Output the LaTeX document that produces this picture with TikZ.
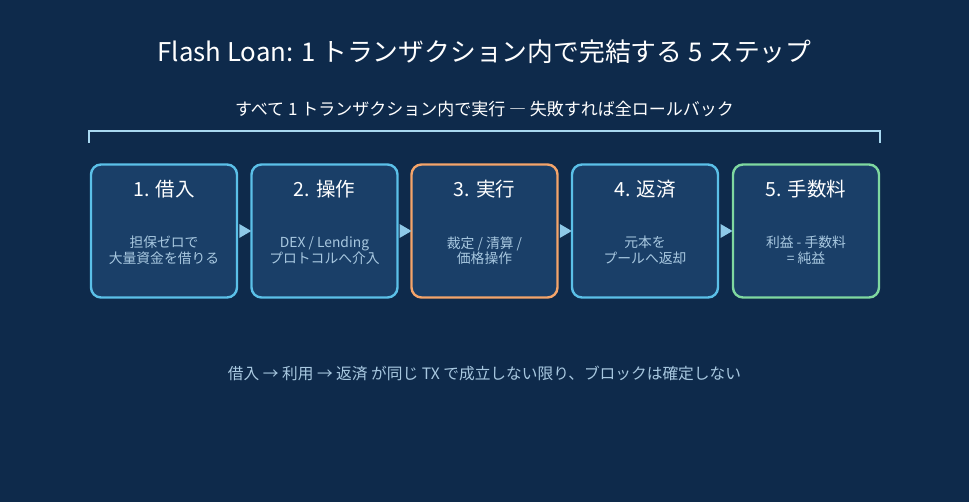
\documentclass[tikz,border=0pt]{standalone}
\usepackage{fontspec}
\usetikzlibrary{calc}
\setmainfont{Noto Sans CJK JP}
\definecolor{bg}{HTML}{0E2A4B}
\definecolor{boxfill}{HTML}{1A3F68}
\definecolor{cblue}{HTML}{5BC0E8}
\definecolor{corange}{HTML}{F4A46A}
\definecolor{cgreen}{HTML}{7FD8A0}
\definecolor{arrowc}{HTML}{8EC9E8}
\definecolor{bodyc}{HTML}{A8C8E0}
\definecolor{bracketc}{HTML}{A8D8F0}
\begin{document}
\begin{tikzpicture}[x=1pt,y=-1pt,
  stepbox/.style={draw=#1, line width=2.4pt, fill=boxfill, rounded corners=10pt, minimum width=146pt, minimum height=133pt, inner sep=0pt},
  steptitle/.style={text=white, font=\fontsize{19.5}{23}\selectfont},
  stepbody/.style={text=bodyc, font=\fontsize{13.8}{15.5}\selectfont, align=center},
  tri/.style={fill=arrowc, draw=none}]
\fill[bg] (0,0) rectangle (969,502);
\useasboundingbox (0,0) rectangle (969,502);
\node[text=white, font=\fontsize{25.8}{30}\selectfont] (title) at (484.5,52) {Flash Loan: 1 トランザクション内で完結する 5 ステップ};
\node[text=white, font=\fontsize{17}{20}\selectfont] (sub) at (484.5,109) {すべて 1 トランザクション内で実行 ― 失敗すれば全ロールバック};
\coordinate (bl) at (89,143);
\coordinate (blt) at (89,131);
\coordinate (brt) at (880,131);
\coordinate (br) at (880,143);
\draw[bracketc, line width=1.6pt] (bl) -- (blt) -- (brt) -- (br);
\node[stepbox=cblue] (b1) at (164,231) {};
\node[stepbox=cblue] (b2) at (324.5,231) {};
\node[stepbox=corange] (b3) at (484.5,231) {};
\node[stepbox=cblue] (b4) at (645,231) {};
\node[stepbox=cgreen] (b5) at (806,231) {};
\foreach \i/\t/\b in {1/{1. 借入}/{担保ゼロで\\大量資金を借りる},2/{2. 操作}/{DEX / Lending\\プロトコルへ介入},3/{3. 実行}/{裁定 / 清算 /\\価格操作},4/{4. 返済}/{元本を\\プールへ返却},5/{5. 手数料}/{利益 - 手数料\\= 純益}}{
  \node[steptitle] (t\i) at ([yshift=42pt]b\i.center) {\t};
  \node[stepbody] (d\i) at ([yshift=-19.5pt]b\i.center) {\b};
}
\foreach \a/\b in {1/2,2/3,3/4,4/5}{
  \coordinate (m\a) at ($(b\a.east)!0.5!(b\b.west)$);
  \fill[tri] ([xshift=-5pt,yshift=-7pt]m\a) -- ([xshift=7pt]m\a) -- ([xshift=-5pt,yshift=7pt]m\a) -- cycle;
}
\node[text=bodyc, font=\fontsize{15.7}{18}\selectfont] (note) at (484.5,373) {借入 → 利用 → 返済 が同じ TX で成立しない限り、ブロックは確定しない};
\end{tikzpicture}
\end{document}
